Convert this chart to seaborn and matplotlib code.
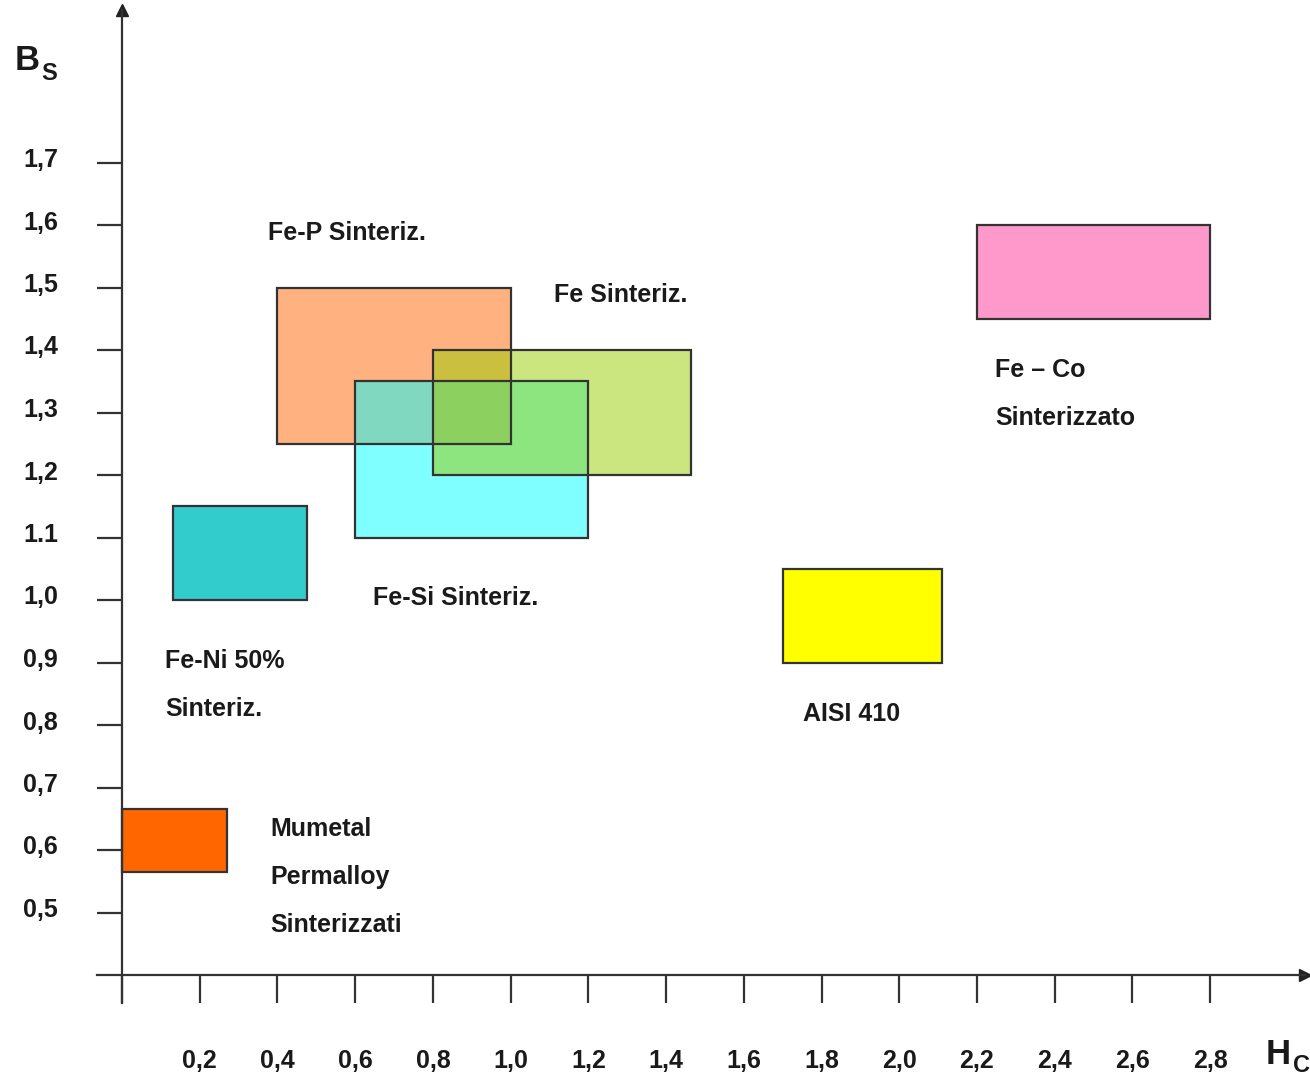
import seaborn as sns
import matplotlib.pyplot as plt
import matplotlib.transforms as mtransforms
from matplotlib.patches import Rectangle

# Data: coercive field (Hc) and saturation induction (Bs) ranges per material
materials = ["Mumetal", "Fe-Ni 50%", "Fe-P", "Fe-Si", "Fe", "AISI 410", "Fe-Co"]
hc_min = [0.0, 0.13, 0.4, 0.6, 0.8, 1.70, 2.2]
hc_max = [0.27, 0.475, 1.0, 1.2, 1.465, 2.11, 2.8]
bs_min = [0.565, 1.0, 1.25, 1.1, 1.2, 0.9, 1.45]
bs_max = [0.665, 1.15, 1.5, 1.35, 1.4, 1.05, 1.6]
colors = ["#FF6600", "#33CCCC", "#FF6600", "#00FFFF", "#99CC00", "#FFFF00", "#FF99CC"]
alphas = [1.0, 1.0, 0.5, 0.5, 0.5, 1.0, 1.0]

labels = ["Mumetal\nPermalloy\nSinterizzati", "Fe-Ni 50%\nSinteriz.", "Fe-P Sinteriz.",
          "Fe-Si Sinteriz.", "Fe Sinteriz.", "AISI 410", "Fe \u2013 Co\nSinterizzato"]
label_x = [0.381, 0.111, 0.376, 0.646, 1.112, 1.752, 2.247]
label_y = [0.634, 0.902, 1.587, 1.003, 1.488, 0.818, 1.368]

x_ticks = [0.0, 0.2, 0.4, 0.6, 0.8, 1.0, 1.2, 1.4, 1.6, 1.8, 2.0, 2.2, 2.4, 2.6, 2.8]
x_ticklabels = ["", "0,2", "0,4", "0,6", "0,8", "1,0", "1,2", "1,4", "1,6", "1,8",
                "2,0", "2,2", "2,4", "2,6", "2,8"]
y_ticks = [0.5, 0.6, 0.7, 0.8, 0.9, 1.0, 1.1, 1.2, 1.3, 1.4, 1.5, 1.6, 1.7]
y_ticklabels = ["0,5", "0,6", "0,7", "0,8", "0,9", "1,0", "1.1", "1,2", "1,3", "1,4",
                "1,5", "1,6", "1,7"]

#-----------------------------------------------------------------------------------------------------------------------
sns.set_theme(style="white")
plt.rcParams['font.family'] = ['Liberation Sans', 'DejaVu Sans']
FS = 18
TXT = '#1a1a1a'
LINE = '#333333'

W, H = 1310, 1078
fig = plt.figure(figsize=(W / 100, H / 100), dpi=100)
# axes box in pixels: left 97, right 1305, bottom 1003, top 10
ax = fig.add_axes([97 / W, (H - 1003) / H, (1305 - 97) / W, (1003 - 10) / H])
ax.set_xlim(-0.0643, 3.044)
ax.set_ylim(0.3552, 1.944)

#-----------------------------------------------------------------------------------------------------------------------
# Rectangles
for x0, x1, y0, y1, c, a in zip(hc_min, hc_max, bs_min, bs_max, colors, alphas):
    ax.add_patch(Rectangle((x0, y0), x1 - x0, y1 - y0, facecolor=c, alpha=a,
                           edgecolor='none', zorder=2))
    ax.add_patch(Rectangle((x0, y0), x1 - x0, y1 - y0, facecolor='none',
                           edgecolor=LINE, linewidth=1.6, zorder=3))

# Labels, one line at a time (line gap ~34.5 pt)
for t, x, y in zip(labels, label_x, label_y):
    for i, line in enumerate(t.split('\n')):
        ax.annotate(line, (x, y), xytext=(0, -34.5 * i), textcoords='offset points',
                    fontsize=FS, fontweight='bold', color=TXT, ha='left', va='center')

#-----------------------------------------------------------------------------------------------------------------------
# Axes styling
for s in ['top', 'right']:
    ax.spines[s].set_visible(False)
ax.spines['left'].set_position(('data', 0))
ax.spines['bottom'].set_position(('data', 0.4))
for s in ['left', 'bottom']:
    ax.spines[s].set_color(LINE)
    ax.spines[s].set_linewidth(1.6)

ax.plot(1, 0.4, '>', color='#222222', markersize=9, transform=ax.get_yaxis_transform(), clip_on=False)
ax.plot(0, 1, '^', color='#222222', markersize=9, transform=ax.get_xaxis_transform(), clip_on=False)

ax.set_xticks(x_ticks)
ax.set_xticklabels(x_ticklabels)
ax.set_yticks(y_ticks)
ax.set_yticklabels(y_ticklabels)
ax.tick_params(axis='x', direction='out', length=20, width=1.6, color=LINE, pad=33,
               labelsize=FS, bottom=True)
ax.tick_params(axis='y', direction='out', length=18, width=1.6, color=LINE, pad=28,
               labelsize=FS, left=True)
for lab in ax.get_xticklabels() + ax.get_yticklabels():
    lab.set_fontweight('bold')
    lab.set_color(TXT)
# y labels sit a few pixels above their ticks
up = mtransforms.ScaledTranslation(0, 5 / 100, fig.dpi_scale_trans)
for tick in ax.yaxis.get_major_ticks():
    tick.label1.set_transform(tick.label1.get_transform() + up)

ax.grid(False)
ax.set_facecolor('white')

# Axis titles
fig.text(15 / W, 1 - 60 / H, 'B', fontsize=25, fontweight='bold', color=TXT, va='center', ha='left')
fig.text(41 / W, 1 - 73 / H, 'S', fontsize=17, fontweight='bold', color=TXT, va='center', ha='left')
fig.text(1266 / W, 1 - 1055 / H, 'H', fontsize=25, fontweight='bold', color=TXT, va='center', ha='left')
fig.text(1293 / W, 1 - 1066 / H, 'C', fontsize=17, fontweight='bold', color=TXT, va='center', ha='left')

fig.savefig('out.png', dpi=100, facecolor='white')
